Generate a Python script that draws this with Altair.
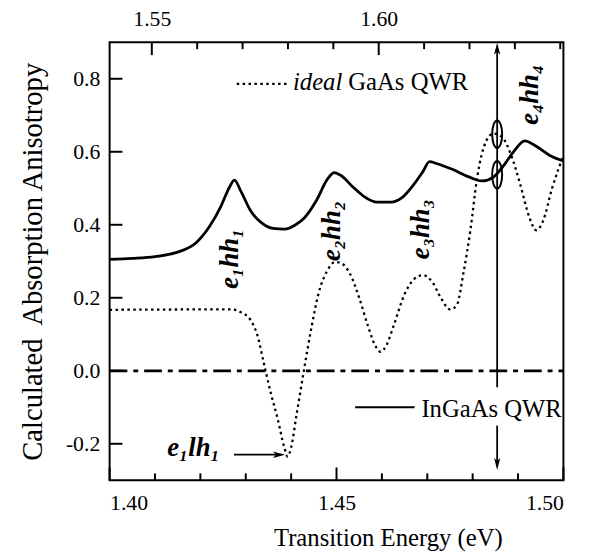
import altair as alt
import pandas as pd

# ---------------- data ----------------
# InGaAs QWR (solid)
solid_E = [1.400, 1.405, 1.410, 1.415, 1.419, 1.422, 1.4245, 1.4265, 1.4275, 1.4290,
           1.431, 1.4335, 1.436, 1.4385, 1.441, 1.443, 1.4455, 1.4480, 1.4495, 1.451,
           1.4535, 1.456, 1.459, 1.462, 1.4645, 1.467, 1.469, 1.4705, 1.472, 1.4755,
           1.479, 1.482, 1.4845, 1.487, 1.489, 1.4915, 1.494, 1.497, 1.500]
solid_A = [0.305, 0.308, 0.313, 0.325, 0.350, 0.395, 0.450, 0.505, 0.522, 0.490,
           0.440, 0.405, 0.390, 0.388, 0.400, 0.420, 0.465, 0.525, 0.543, 0.535,
           0.505, 0.478, 0.462, 0.462, 0.475, 0.510, 0.545, 0.573, 0.568, 0.552,
           0.532, 0.520, 0.530, 0.565, 0.600, 0.630, 0.615, 0.590, 0.575]
# ideal GaAs QWR (dotted)
dot_E = [1.400, 1.420, 1.427, 1.429, 1.431, 1.4325, 1.434, 1.4355, 1.437, 1.4385,
         1.4392, 1.440, 1.4412, 1.4428, 1.4445, 1.446, 1.448, 1.4497, 1.451, 1.453,
         1.455, 1.457, 1.4585, 1.4597, 1.461, 1.4625, 1.465, 1.467, 1.469, 1.471,
         1.473, 1.475, 1.4765, 1.478, 1.4795, 1.481, 1.483, 1.4846, 1.4865, 1.4885,
         1.4905, 1.4925, 1.494, 1.4955, 1.4975, 1.500]
dot_A = [0.167, 0.168, 0.168, 0.160, 0.140, 0.100, 0.020, -0.060, -0.130, -0.210,
         -0.235, -0.210, -0.120, 0.000, 0.120, 0.210, 0.275, 0.298, 0.295, 0.265,
         0.200, 0.120, 0.070, 0.052, 0.070, 0.120, 0.210, 0.250, 0.262, 0.245,
         0.200, 0.168, 0.180, 0.270, 0.385, 0.530, 0.630, 0.650, 0.640, 0.590,
         0.510, 0.420, 0.385, 0.410, 0.500, 0.590]
# zero reference (dash-dot)
zero_E = [1.400, 1.500]
zero_A = [0.0, 0.0]

# axes
x_labels = [1.40, 1.45, 1.50]
x_minor = [1.41, 1.42, 1.43, 1.44, 1.46, 1.47, 1.48, 1.49]
top_labels = [1.55, 1.60]
top_minor = [1.56, 1.57, 1.58, 1.59, 1.61, 1.62, 1.63, 1.64]
y_labels = [-0.2, 0.0, 0.2, 0.4, 0.6, 0.8]
TOP_OFFSET = 0.1407   # GaAs energy (top) minus InGaAs energy (bottom)

# annotations
peak_names = ["e\u2081hh\u2081", "e\u2082hh\u2082", "e\u2083hh\u2083", "e\u2084hh\u2084"]
peak_E = [1.4265, 1.4491, 1.4687, 1.4926]
peak_A = [0.307, 0.383, 0.388, 0.756]

marker_E = 1.4854
ellipse_A = [0.648, 0.537]

XDOM = [1.40, 1.50]
YDOM = [-0.3, 0.9]
W, H = 460, 444
FONT = "Liberation Serif"

xs = alt.Scale(domain=XDOM, nice=False, zero=False)
ys = alt.Scale(domain=YDOM, nice=False, zero=False)


def X(field, axis=None):
    # x axes are resolved independently: layers without an axis switch it off
    if axis is None:
        return alt.X(field, scale=xs, axis=None)
    return alt.X(field, scale=xs, axis=axis)


def Y(field, axis=None):
    # y axis is shared: other layers simply do not define one
    if axis is None:
        return alt.Y(field, scale=ys)
    return alt.Y(field, scale=ys, axis=axis)


x_axis = alt.Axis(values=x_labels, format=".2f", tickSize=0, domain=False, grid=False,
                  labelFont=FONT, labelFontSize=22, labelColor="black", labelPadding=13,
                  title="Transition Energy (eV)", titleFont=FONT, titleFontSize=25,
                  titleFontWeight="normal", titleColor="black", titlePadding=12,
                  titleX=282, titleAlign="center")
y_axis = alt.Axis(values=y_labels, tickSize=0, domain=False, grid=False,
                  labelExpr="replace(format(datum.value, '.1f'), '\u2212', '-')",
                  labelFont=FONT, labelFontSize=22, labelColor="black", labelPadding=10,
                  title="Calculated\u00a0 Absorption Anisotropy", titleFont=FONT,
                  titleFontSize=29, titleFontWeight="normal", titleColor="black",
                  titlePadding=18)

solid = alt.Chart(pd.DataFrame({"E": solid_E, "A": solid_A})).mark_line(
    color="black", strokeWidth=2.8, interpolate="monotone").encode(
    x=X("E:Q", x_axis), y=Y("A:Q", y_axis))

dotted = alt.Chart(pd.DataFrame({"E": dot_E, "A": dot_A})).mark_line(
    color="black", strokeWidth=2.3, strokeDash=[2.5, 3.5], interpolate="monotone").encode(
    x=X("E:Q"), y=Y("A:Q"))

zero = alt.Chart(pd.DataFrame({"E": zero_E, "A": zero_A})).mark_line(
    color="black", strokeWidth=2.8, strokeDash=[18, 6, 5, 6]).encode(
    x=X("E:Q"), y=Y("A:Q"))

# inward ticks (bottom / left)
bmin = alt.Chart(pd.DataFrame({"v": x_minor})).mark_rule(color="black", strokeWidth=2).encode(
    x=X("v:Q"), y=alt.value(H), y2=alt.value(H - 7))
bmaj = alt.Chart(pd.DataFrame({"v": x_labels})).mark_rule(color="black", strokeWidth=2).encode(
    x=X("v:Q"), y=alt.value(H), y2=alt.value(H - 13))
lmaj = alt.Chart(pd.DataFrame({"v": y_labels})).mark_rule(color="black", strokeWidth=2).encode(
    y=Y("v:Q"), x=alt.value(0), x2=alt.value(13))

# top (GaAs) energy axis, drawn on the shared scale shifted by TOP_OFFSET
top_df = pd.DataFrame({"g": top_labels})
top_df["v"] = top_df["g"] - TOP_OFFSET
topmin_df = pd.DataFrame({"g": top_minor})
topmin_df["v"] = topmin_df["g"] - TOP_OFFSET
top_axis = alt.Axis(orient="top", values=list(top_df["v"]),
                    labelExpr="format(datum.value + %r, '.2f')" % TOP_OFFSET,
                    tickSize=0, domain=False, grid=False, labelFont=FONT, labelFontSize=22,
                    labelColor="black", labelPadding=12, title="")
tmaj = alt.Chart(top_df).mark_rule(color="black", strokeWidth=2).encode(
    x=X("v:Q", top_axis), y=alt.value(0), y2=alt.value(13))
tmin = alt.Chart(topmin_df).mark_rule(color="black", strokeWidth=2).encode(
    x=X("v:Q"), y=alt.value(0), y2=alt.value(7))

# vertical double arrow (broken around the legend text)
seg = pd.DataFrame({"E": [marker_E, marker_E], "y1": [0.880, -0.150], "y2": [-0.045, -0.252]})
vline = alt.Chart(seg).mark_rule(color="black", strokeWidth=1.8).encode(
    x=X("E:Q"), y=Y("y1:Q"), y2="y2:Q")
up_head = alt.Chart(pd.DataFrame({"E": [marker_E], "A": [0.878]})).mark_point(
    shape="M0,-1 L0.42,0.6 L0,0.2 L-0.42,0.6 Z", size=230, filled=True, color="black",
    opacity=1).encode(x=X("E:Q"), y=Y("A:Q"))
down_head = alt.Chart(pd.DataFrame({"E": [marker_E], "A": [-0.251]})).mark_point(
    shape="M0,1 L0.42,-0.6 L0,-0.2 L-0.42,-0.6 Z", size=230, filled=True, color="black",
    opacity=1).encode(x=X("E:Q"), y=Y("A:Q"))
ellipses = alt.Chart(pd.DataFrame({"E": [marker_E, marker_E], "A": ellipse_A})).mark_point(
    shape="M0,-1 A0.36,1 0 1,1 0,1 A0.36,1 0 1,1 0,-1 Z", size=784, filled=False,
    color="black", strokeWidth=2, opacity=1).encode(x=X("E:Q"), y=Y("A:Q"))

# e1lh1 arrow
lh_shaft = alt.Chart(pd.DataFrame({"E": [1.4274], "E2": [1.4372], "A": [-0.230]})).mark_rule(
    color="black", strokeWidth=1.8).encode(x=X("E:Q"), x2="E2:Q", y=Y("A:Q"))
lh_head = alt.Chart(pd.DataFrame({"E": [1.4370], "A": [-0.230]})).mark_point(
    shape="M1,0 L-0.6,-0.42 L-0.2,0 L-0.6,0.42 Z", size=230, filled=True, color="black",
    opacity=1).encode(x=X("E:Q"), y=Y("A:Q"))
lh_text = alt.Chart(pd.DataFrame({"E": [1.4185], "A": [-0.212], "t": ["e\u2081lh\u2081"]})).mark_text(
    font=FONT, fontSize=27, fontStyle="italic", fontWeight="bold", color="black").encode(
    x=X("E:Q"), y=Y("A:Q"), text="t:N")

peaks = alt.Chart(pd.DataFrame({"E": peak_E, "A": peak_A, "t": peak_names})).mark_text(
    font=FONT, fontSize=27, fontStyle="italic", fontWeight="bold", color="black",
    angle=270).encode(x=X("E:Q"), y=Y("A:Q"), text="t:N")

# legends
leg_dot = alt.Chart(pd.DataFrame({"E": [1.4280, 1.4396], "A": [0.786, 0.786]})).mark_line(
    color="black", strokeWidth=2.3, strokeDash=[2.5, 3.5]).encode(x=X("E:Q"), y=Y("A:Q"))
leg_ideal = alt.Chart(pd.DataFrame({"E": [1.4404], "A": [0.790], "t": ["ideal"]})).mark_text(
    font=FONT, fontSize=25, fontStyle="italic", align="left", color="black").encode(
    x=X("E:Q"), y=Y("A:Q"), text="t:N")
leg_gaas = alt.Chart(pd.DataFrame({"E": [1.4526], "A": [0.790], "t": ["GaAs QWR"]})).mark_text(
    font=FONT, fontSize=25, align="left", color="black").encode(
    x=X("E:Q"), y=Y("A:Q"), text="t:N")
leg_solid = alt.Chart(pd.DataFrame({"E": [1.4541, 1.4672], "A": [-0.100, -0.100]})).mark_line(
    color="black", strokeWidth=2.0).encode(x=X("E:Q"), y=Y("A:Q"))
leg_ingaas = alt.Chart(pd.DataFrame({"E": [1.4687], "A": [-0.104], "t": ["InGaAs QWR"]})).mark_text(
    font=FONT, fontSize=25, align="left", color="black").encode(
    x=X("E:Q"), y=Y("A:Q"), text="t:N")

chart = alt.layer(
    solid, tmaj, zero, dotted, bmin, bmaj, lmaj, tmin, vline, up_head, down_head,
    ellipses, lh_shaft, lh_head, lh_text, peaks, leg_dot, leg_ideal, leg_gaas,
    leg_solid, leg_ingaas,
).resolve_axis(x="independent").properties(
    width=W, height=H,
    background="white",
    autosize=alt.AutoSizeParams(type="none"),
    padding={"left": 103, "top": 31, "right": 31, "bottom": 72},
).configure_view(stroke="black", strokeWidth=2)

chart.save("out.html", embed_options={"renderer": "svg", "actions": False})
